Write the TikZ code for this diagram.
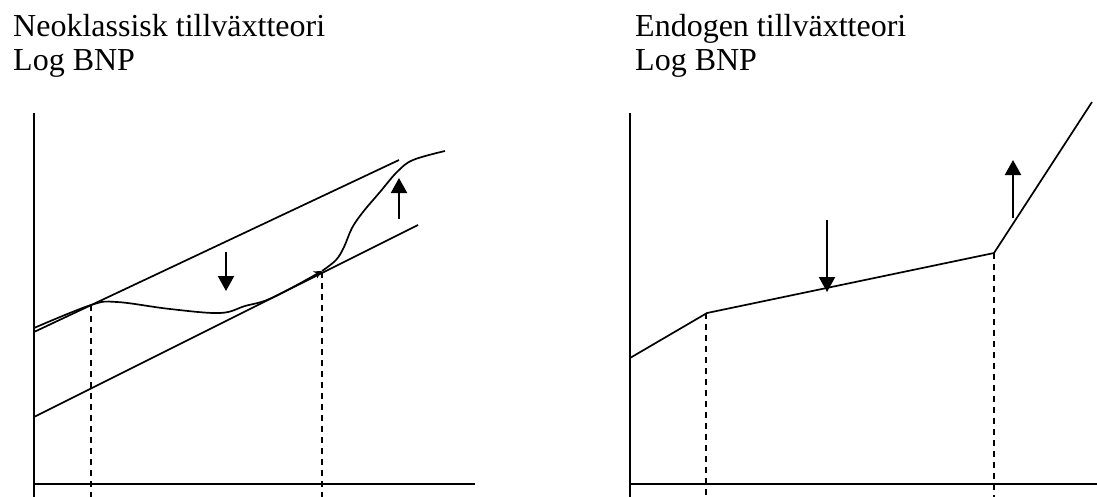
\documentclass[tikz,border=0pt]{standalone}
\usepackage{fontspec}
\setmainfont{Liberation Serif}
\usetikzlibrary{arrows.meta}
\begin{document}
\begin{tikzpicture}[x=1pt,y=-1pt,
  ln/.style={line width=1.7pt},
  ax/.style={line width=1.9pt},
  dsh/.style={line width=1.6pt, dash pattern=on 6pt off 5pt},
  bigarrow/.style={line width=2.2pt, -{Triangle[width=16pt,length=15pt]}},
  lbl/.style={anchor=base west, inner sep=0pt, font=\fontsize{32}{36}\selectfont}]
\useasboundingbox (0,0) rectangle (1097,496);
\clip (0,0) rectangle (1097,496);
% texts
\node[lbl] (t1) at (13,36) {Neoklassisk tillväxtteori};
\node[lbl] (t2) at (13,70) {Log BNP};
\node[lbl] (t3) at (635,36) {Endogen tillväxtteori};
\node[lbl] (t4) at (635,70) {Log BNP};
% left panel
\coordinate (ly0) at (34,113);
\coordinate (ly1) at (34,500);
\coordinate (lx0) at (34,484);
\coordinate (lx1) at (475,484);
\draw[ax] (ly0) -- (ly1);
\draw[ax] (lx0) -- (lx1);
\coordinate (ua) at (34,332);
\coordinate (ub) at (399,160);
\coordinate (la) at (34,417);
\coordinate (lb) at (418,225);
\draw[ln] (ua) -- (ub);
\draw[ln] (la) -- (lb);
\coordinate (d1a) at (91,305);
\coordinate (d1b) at (91,500);
\coordinate (d2a) at (322,272);
\coordinate (d2b) at (322,500);
\draw[dsh] (d1a) -- (d1b);
\draw[dsh] (d2a) -- (d2b);
\draw[ln, -{Stealth[length=8pt,width=8pt]}] plot[smooth, tension=0.6] coordinates {(34,328) (91,305) (117,302) (170,309) (220,313) (245,306) (267,300) (295,286) (322,271)};
\draw[ln] plot[smooth, tension=0.6] coordinates {(322,271) (336,260) (344,247) (352,228) (363,212) (380,192) (397,172) (413,160) (445,151)};
\coordinate (a1s) at (226,252);
\coordinate (a1e) at (226,291);
\draw[bigarrow] (a1s) -- (a1e);
\coordinate (a2s) at (399,219);
\coordinate (a2e) at (399,178);
\draw[bigarrow] (a2s) -- (a2e);
% right panel
\coordinate (ry0) at (630,113);
\coordinate (ry1) at (630,500);
\coordinate (rx0) at (630,484);
\coordinate (rx1) at (1100,484);
\draw[ax] (ry0) -- (ry1);
\draw[ax] (rx0) -- (rx1);
\coordinate (p0) at (630,358);
\coordinate (p1) at (707,313);
\coordinate (p2) at (994,253);
\coordinate (p3) at (1092,102);
\draw[ln] (p0) -- (p1) -- (p2) -- (p3);
\coordinate (e1b) at (706,500);
\coordinate (e2b) at (994,500);
\draw[dsh] (706,313) -- (e1b);
\draw[dsh] (p2) -- (e2b);
\coordinate (b1s) at (827,220);
\coordinate (b1e) at (827,292);
\draw[bigarrow] (b1s) -- (b1e);
\coordinate (b2s) at (1013,218);
\coordinate (b2e) at (1013,160);
\draw[bigarrow] (b2s) -- (b2e);
\end{tikzpicture}
\end{document}
